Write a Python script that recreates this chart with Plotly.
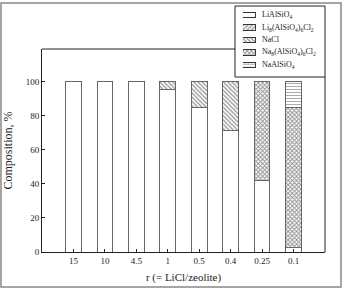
import plotly.graph_objects as go

categories = ["15", "10", "4.5", "1", "0.5", "0.4", "0.25", "0.1"]
li_alsio4 = [100, 100, 100, 95.5, 85, 71, 42, 2.5]
li8_sodalite = [0, 0, 0, 0, 0, 0, 0, 0]
nacl = [0, 0, 0, 4.5, 15, 29, 0, 0]
na8_sodalite = [0, 0, 0, 0, 0, 0, 58, 82.5]
na_alsio4 = [0, 0, 0, 0, 0, 0, 0, 15]

series_names = [
    "LiAlSiO<sub>4</sub>",
    "Li<sub>8</sub>(AlSiO<sub>4</sub>)<sub>6</sub>Cl<sub>2</sub>",
    "NaCl",
    "Na<sub>8</sub>(AlSiO<sub>4</sub>)<sub>6</sub>Cl<sub>2</sub>",
    "NaAlSiO<sub>4</sub>",
]
series_values = [li_alsio4, li8_sodalite, nacl, na8_sodalite, na_alsio4]
pattern_styles = [
    dict(shape="", size=8, solidity=0.3, fgcolor="#444444"),
    dict(shape="/", size=3, solidity=0.45, fgcolor="#333333"),
    dict(shape="\\", size=3, solidity=0.45, fgcolor="#333333"),
    dict(shape="x", size=3, solidity=0.55, fgcolor="#222222"),
    dict(shape="-", size=3, solidity=0.3, fgcolor="#444444"),
]

serif = "Liberation Serif"
frame_top = 203 / 246

fig = go.Figure()
for name, vals, pat in zip(series_names, series_values, pattern_styles):
    fig.add_trace(go.Bar(
        x=categories, y=vals, name=name, width=0.5, showlegend=False,
        xaxis="x", yaxis="y",
        marker=dict(color="white", line=dict(color="#666666", width=1),
                    pattern=dict(bgcolor="white", fillmode="overlay", **pat)),
    ))

# legend swatches on an auxiliary axis
annotations = []
for i, (name, pat) in enumerate(zip(series_names, pattern_styles)):
    fig.add_trace(go.Bar(
        x=[1], y=[i], orientation="h", width=0.45, showlegend=False,
        xaxis="x2", yaxis="y2", hoverinfo="skip",
        marker=dict(color="white", line=dict(color="#333333", width=1),
                    pattern=dict(bgcolor="white", fillmode="overlay", **pat)),
    ))
    annotations.append(dict(text=name, xref="paper", yref="y2", x=0.772, y=i,
                            xanchor="left", yanchor="middle", showarrow=False,
                            font=dict(size=8, family=serif, color="#222222")))

fig.update_layout(
    barmode="stack",
    width=344, height=288,
    margin=dict(l=42, r=19, t=6, b=36),
    paper_bgcolor="white", plot_bgcolor="rgba(0,0,0,0)",
    font=dict(family=serif, size=9, color="#222222"),
    showlegend=False,
    xaxis=dict(range=[-1, 8], type="category", showline=True, linecolor="#222222",
               linewidth=1, mirror=False, ticks="inside", ticklen=3,
               tickcolor="#222222", showgrid=False, anchor="y",
               tickfont=dict(size=9, family=serif),
               title=dict(text="r (= LiCl/zeolite)", font=dict(size=11, family=serif), standoff=8)),
    yaxis=dict(domain=[0, frame_top], range=[0, 119], showline=True, linecolor="#222222",
               linewidth=1, mirror=False, ticks="inside", ticklen=3, tickcolor="#222222",
               tickvals=[0, 20, 40, 60, 80, 100], showgrid=False, zeroline=False, anchor="x",
               tickfont=dict(size=9, family=serif),
               title=dict(text="Composition, %", font=dict(size=12, family=serif), standoff=10)),
    xaxis2=dict(domain=[0.710, 0.756], range=[0, 1], visible=False, anchor="y2"),
    yaxis2=dict(domain=[0.7348, 0.9888], range=[4.5, -0.5], visible=False, anchor="x2"),
    annotations=annotations,
    shapes=[
        dict(type="rect", xref="paper", yref="paper",
             x0=-0.1449, x1=1.0565, y0=-0.1423, y1=1.0122,
             line=dict(color="#888888", width=1.5), layer="below"),
        dict(type="rect", xref="paper", yref="paper",
             x0=0.682, x1=1.0, y0=(252 - 77) / 246, y1=1.0,
             line=dict(color="#222222", width=1), fillcolor="white", layer="below"),
        dict(type="line", xref="paper", yref="paper",
             x0=0, x1=0.682, y0=frame_top, y1=frame_top,
             line=dict(color="#222222", width=1)),
        dict(type="line", xref="paper", yref="paper",
             x0=1, x1=1, y0=0, y1=(252 - 77) / 246,
             line=dict(color="#222222", width=1)),
    ],
)

fig.write_html("out.html")
